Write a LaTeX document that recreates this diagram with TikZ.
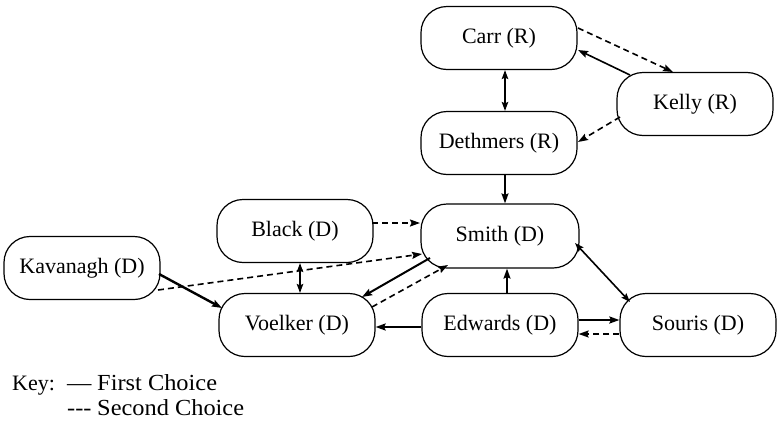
\documentclass[tikz,border=0pt]{standalone}
\usepackage{fontspec}
\setmainfont{Liberation Serif}
\newfontfamily\keyfont[FakeStretch=1.06]{Liberation Serif}
\usetikzlibrary{arrows.meta,calc}
\begin{document}
\begin{tikzpicture}[x=1pt,y=-1pt,
  person/.style={draw,line width=1.2pt,rounded corners=26pt,minimum width=156pt,minimum height=63pt,inner sep=0pt,font=\fontsize{22}{25}\selectfont},
  first/.style={line width=1.6pt,-{Stealth[length=10pt,width=7pt,inset=1.5pt]}},
  firstboth/.style={line width=1.4pt,{Stealth[length=9pt,width=6.5pt,inset=1.5pt]}-{Stealth[length=9pt,width=6.5pt,inset=1.5pt]}},
  second/.style={line width=1.6pt,dash pattern=on 6pt off 4pt,-{Stealth[length=10pt,width=7pt,inset=1.5pt]}},
  keytext/.style={anchor=base west,inner sep=0pt,font=\fontsize{22}{25}\selectfont},
  keywide/.style={anchor=base west,inner sep=0pt,font=\keyfont\fontsize{23}{26}\selectfont}]
\useasboundingbox (0,0) rectangle (777,426);
\node[person] (carr) at (499,38) {Carr (R)};
\node[person] (kelly) at (695,104) {Kelly (R)};
\node[person] (deth) at (499,143) {Dethmers (R)};
\node[person,minimum width=158pt,minimum height=64pt] (smith) at (500,236) {Smith (D)};
\node[person] (black) at (295,231) {Black (D)};
\node[person] (kav) at (82,268) {Kavanagh (D)};
\node[person] (voel) at (297,325) {Voelker (D)};
\node[person] (edw) at (500,325) {Edwards (D)};
\node[person] (sour) at (698,325) {Souris (D)};
% connectors
\draw[firstboth] ([xshift=6pt]carr.south) -- ([xshift=6pt]deth.north);
\draw[first] ($(kelly.center)+(-65,-29)$) -- ($(carr.center)+(79,12)$);
\draw[second] ($(carr.center)+(79,-10)$) -- ($(kelly.center)+(-22,-32)$);
\draw[second] ($(kelly.center)+(-75,13)$) -- ($(deth.center)+(79,-1)$);
\draw[first] ([xshift=6pt]deth.south) -- ([xshift=5pt]smith.north);
\draw[second] ($(black.center)+(77,-8)$) -- ($(smith.center)+(-80,-13)$);
\draw[firstboth] ([xshift=5pt]black.south) -- ([xshift=3pt]voel.north);
\draw[first,line width=2.4pt] ($(kav.center)+(77,6)$) -- ($(voel.center)+(-75,-17)$);
\draw[second] ($(kav.center)+(76,22)$) -- ($(smith.center)+(-78,18)$);
\draw[first,line width=2pt] ($(smith.center)+(-70,22)$) -- ($(voel.center)+(65,-28)$);
\draw[second] ($(voel.center)+(75,-18)$) -- ($(smith.center)+(-52,29)$);
\draw[first] ([xshift=7pt]edw.north) -- ([xshift=7pt]smith.south);
\draw[firstboth,line width=1.6pt] ($(smith.center)+(75,7)$) -- ($(sour.center)+(-68,-23)$);
\draw[first,line width=2pt] ([yshift=-2pt]edw.west) -- ([yshift=-2pt]voel.east);
\draw[first,line width=2pt] ([yshift=5pt]edw.east) -- ([yshift=5pt]sour.west);
\draw[second] ([yshift=-9pt]sour.west) -- ([yshift=-9pt]edw.east);
% key
\node[keytext] (key) at (12,390) {Key:};
\node[keywide] (k1d) at (67,390) {—};
\node[keywide] (k1) at (97,390) {First Choice};
\node[keywide] (k2d) at (67,415) {-{}-{}-};
\node[keywide] (k2) at (97,415) {Second Choice};
\end{tikzpicture}
\end{document}
